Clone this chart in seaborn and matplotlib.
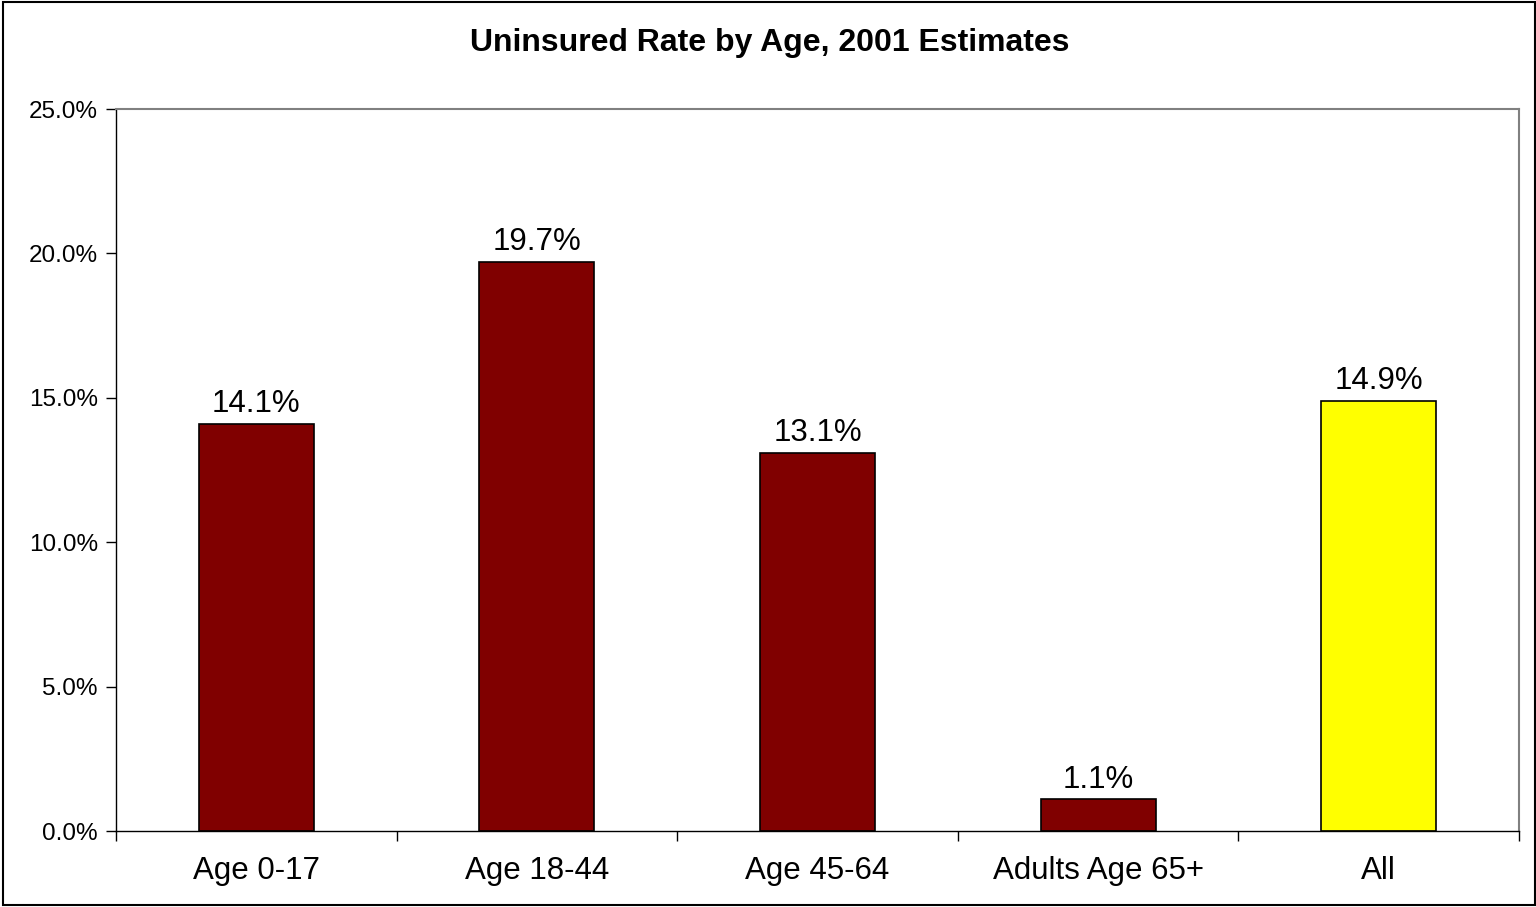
import matplotlib
matplotlib.use("Agg")
import matplotlib.pyplot as plt
import seaborn as sns
import pandas as pd
from matplotlib.ticker import FixedLocator, FuncFormatter

categories = ["Age 0-17", "Age 18-44", "Age 45-64", "Adults Age 65+", "All"]
rates = [14.1, 19.7, 13.1, 1.1, 14.9]
bar_colors = ["#800000", "#800000", "#800000", "#800000", "#FFFF00"]
y_ticks = [0, 5, 10, 15, 20, 25]
title = "Uninsured Rate by Age, 2001 Estimates"

sns.set_style("white")
plt.rcParams["font.family"] = ["Liberation Sans", "DejaVu Sans"]
plt.rcParams["text.color"] = "black"
plt.rcParams["xtick.color"] = "black"
plt.rcParams["ytick.color"] = "black"

df = pd.DataFrame({"category": categories, "rate": rates})

fig = plt.figure(figsize=(15.36, 9.07), dpi=100)
ax = fig.add_axes([116/1536, 1 - 831/907, (1519-116)/1536, (831-109)/907])

sns.barplot(data=df, x="category", y="rate", hue="category", palette=bar_colors,
            width=0.41, edgecolor="black", linewidth=1.2, legend=False, ax=ax, saturation=1)

ax.set_xlim(-0.5, len(categories) - 0.5)
ax.set_ylim(0, 25)
ax.yaxis.set_major_locator(FixedLocator(y_ticks))
ax.yaxis.set_major_formatter(FuncFormatter(lambda v, p: f"{v:.1f}%"))
ax.set_xlabel("")
ax.set_ylabel("")

# ticks between categories on x axis
ax.set_xticks(range(len(categories)))
ax.set_xticklabels(categories, fontsize=22.5, color="black")
ax.xaxis.set_minor_locator(FixedLocator([i - 0.5 for i in range(len(categories) + 1)]))
ax.tick_params(axis="x", which="major", length=0, pad=18)
ax.tick_params(axis="x", which="minor", length=7, width=1, color="black", direction="out", bottom=True)
ax.tick_params(axis="y", which="major", length=7, width=1, color="black", direction="out", left=True,
               labelsize=17.5, labelcolor="black", pad=6)

for side in ["left", "bottom"]:
    ax.spines[side].set_color("black")
    ax.spines[side].set_linewidth(1)
for side in ["top", "right"]:
    ax.spines[side].set_color("#808080")
    ax.spines[side].set_linewidth(1.5)
    ax.spines[side].set_visible(True)

for i, v in enumerate(rates):
    ax.text(i, v + 0.16, f"{v:.1f}%", ha="center", va="bottom", fontsize=22.5, color="black")

fig.text(770 / 1536, 1 - 43/907, title, ha="center", va="center",
         fontsize=23, fontweight="bold", color="black")

# outer frame
frame = plt.Rectangle((3/1536, 2/907), 1 - 4/1536, 1 - 4/907, transform=fig.transFigure,
                      fill=False, edgecolor="black", linewidth=1.5)
fig.patches.append(frame)

fig.savefig("out.png", dpi=100)
